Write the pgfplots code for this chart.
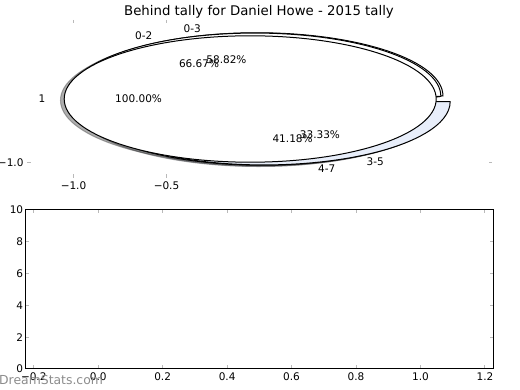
\documentclass[border=0pt]{standalone}
\usepackage{pgfplots}
\pgfplotsset{compat=1.18}
\usepackage{fontspec}
\setmainfont{DejaVu Sans}
\definecolor{pieblue}{RGB}{232,238,250}
\definecolor{tickgray}{RGB}{185,185,185}
\definecolor{wmgray}{RGB}{140,140,140}

% one data unit of the upper axes, in bp (465bp / 2.5 and 158bp / 2.5)
\def\rx{186bp}\def\ry{63.2bp}

% shadow of a wedge (matplotlib: offset -0.02,-0.02, 0.3*colour, alpha 0.5)
\newcommand\pieshadow[4]{%
  \pgfmathsetmacro\pwtm{(#1+#2)/2}%
  \pgfmathsetmacro\pwcx{#3*cos(\pwtm)-0.02}%
  \pgfmathsetmacro\pwcy{#3*sin(\pwtm)-0.02}%
  \pgfmathsetmacro\pwpx{\pwcx+cos(#1)}%
  \pgfmathsetmacro\pwpy{\pwcy+sin(#1)}%
  \filldraw[fill=#4!30!black, draw=#4!30!black, opacity=0.45, line width=1bp]
    (axis cs:\pwcx,\pwcy) -- (axis cs:\pwpx,\pwpy)
    arc[start angle=#1, end angle=#2, x radius=\rx, y radius=\ry] -- cycle;
}
% a wedge
\newcommand\piewedge[4]{%
  \pgfmathsetmacro\pwtm{(#1+#2)/2}%
  \pgfmathsetmacro\pwcx{#3*cos(\pwtm)}%
  \pgfmathsetmacro\pwcy{#3*sin(\pwtm)}%
  \pgfmathsetmacro\pwpx{\pwcx+cos(#1)}%
  \pgfmathsetmacro\pwpy{\pwcy+sin(#1)}%
  \filldraw[fill=#4, draw=black, line width=1bp]
    (axis cs:\pwcx,\pwcy) -- (axis cs:\pwpx,\pwpy)
    arc[start angle=#1, end angle=#2, x radius=\rx, y radius=\ry] -- cycle;
}
% labels of a wedge (labeldistance 1.1, pctdistance 0.6)
\newcommand\pielabels[5]{%
  \pgfmathsetmacro\pwtm{(#1+#2)/2}%
  \pgfmathsetmacro\pwcx{#3*cos(\pwtm)}%
  \pgfmathsetmacro\pwcy{#3*sin(\pwtm)}%
  \pgfmathsetmacro\pwlx{\pwcx+1.1*cos(\pwtm)}%
  \pgfmathsetmacro\pwly{\pwcy+1.1*sin(\pwtm)}%
  \pgfmathsetmacro\pwqx{\pwcx+0.6*cos(\pwtm)}%
  \pgfmathsetmacro\pwqy{\pwcy+0.6*sin(\pwtm)}%
  \ifdim\pwlx pt<0pt \def\pwanc{east}\else\def\pwanc{west}\fi
  \node[anchor=\pwanc, inner sep=0pt, font=\fontsize{10.5bp}{12bp}\selectfont] at (axis cs:\pwlx,\pwly) {#4};
  \node[inner sep=0pt, font=\fontsize{10.5bp}{12bp}\selectfont] at (axis cs:\pwqx,\pwqy) {#5};
}

\begin{document}
\begin{tikzpicture}
\useasboundingbox (0,0) rectangle (520bp,390bp);

\node[font=\fontsize{13.3bp}{15bp}\selectfont] at (259bp,378.5bp) {Behind tally for Daniel Howe - 2015 tally};

\begin{axis}[
  at={(27bp,212bp)}, anchor=south west, scale only axis,
  width=465bp, height=158bp,
  xmin=-1.25, xmax=1.25, ymin=-1.25, ymax=1.25,
  axis line style={draw=none},
  xtick={-1,-0.5}, xticklabels={−1.0,−0.5},
  ytick={-1}, yticklabels={−1.0},
  tick align=inside, major tick length=3.5bp,
  tick style={tickgray, line width=1bp},
  tick label style={font=\fontsize{10.5bp}{12bp}\selectfont},
  clip=false,
]
\addplot[draw=none] coordinates {(0,0)};
\pgfplotsextra{%
  % pie C: values 10, 7 ; pie B: values 2, 1 ; pie A: value 1 ; explode 0.05
  \pgfmathsetmacro\tC{360*10/(10+7)}%
  \pgfmathsetmacro\tB{360*2/(2+1)}%
  % shadows
  \pieshadow{0}{\tC}{0.05}{white}
  \pieshadow{\tC}{360}{0.05}{pieblue}
  \pieshadow{0}{\tB}{0.05}{white}
  \pieshadow{\tB}{360}{0.05}{pieblue}
  \filldraw[fill=black!70, draw=black!70, opacity=0.45, line width=1bp]
    (axis cs:-0.07,-0.02) ellipse[x radius=\rx, y radius=\ry];
  % wedges
  \piewedge{0}{\tC}{0.05}{white}
  \piewedge{\tC}{360}{0.05}{pieblue}
  \piewedge{0}{\tB}{0.05}{white}
  \piewedge{\tB}{360}{0.05}{pieblue}
  \filldraw[fill=white, draw=black, line width=1bp]
    (axis cs:-0.05,0) ellipse[x radius=\rx, y radius=\ry];
  % labels
  \pielabels{0}{\tC}{0.05}{0-3}{58.82\%}
  \pielabels{\tC}{360}{0.05}{4-7}{41.18\%}
  \pielabels{0}{\tB}{0.05}{0-2}{66.67\%}
  \pielabels{\tB}{360}{0.05}{3-5}{33.33\%}
  \pielabels{0}{360}{0.05}{1}{100.00\%}
}
\end{axis}

\begin{axis}[
  at={(25.7bp,21bp)}, anchor=south west, scale only axis,
  width=467.3bp, height=159bp,
  xmin=-0.225, xmax=1.225, ymin=0, ymax=10,
  xtick={-0.2,0,0.2,0.4,0.6,0.8,1.0,1.2},
  xticklabels={−0.2,0.0,0.2,0.4,0.6,0.8,1.0,1.2},
  ytick={0,2,4,6,8,10},
  yticklabels={0,2,4,6,8,10},
  tick align=inside, major tick length=3.5bp,
  tick style={tickgray, line width=1bp},
  axis line style={black, line width=1bp},
  tick label style={font=\fontsize{10.5bp}{12bp}\selectfont},
  yticklabel style={xshift=1bp},
]
\addplot[draw=none] coordinates {(0,0)};
\end{axis}

\node[anchor=west, inner sep=0pt, text=wmgray, font=\fontsize{12.4bp}{14bp}\selectfont] at (-1bp,10bp) {DreamStats.com};
\end{tikzpicture}
\end{document}
